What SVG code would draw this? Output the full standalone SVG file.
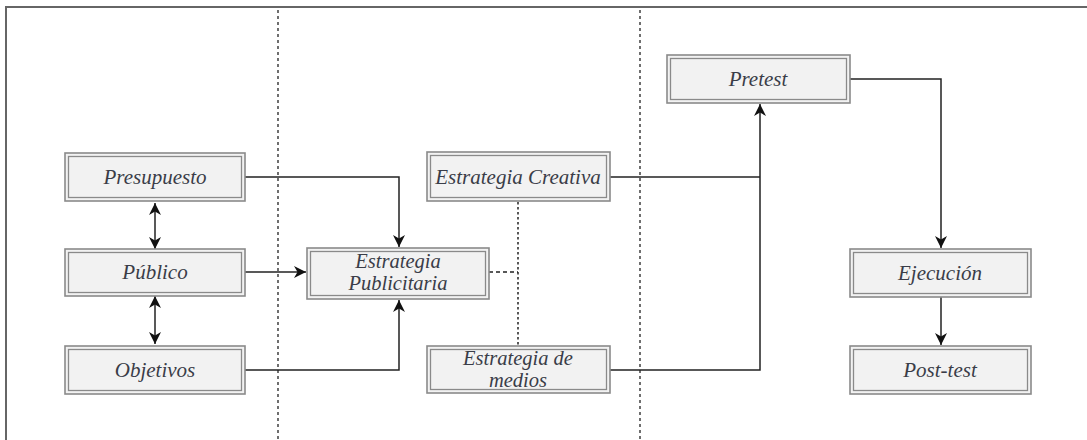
<svg xmlns="http://www.w3.org/2000/svg" width="1087" height="440" viewBox="0 0 1087 440">
  <defs>
    <marker id="arrow" viewBox="0 0 12 12" refX="12" refY="6" markerWidth="12" markerHeight="12" markerUnits="userSpaceOnUse" orient="auto-start-reverse">
      <path d="M0,0 L12,6 L0,12 L3.5,6 Z" fill="#111"/>
    </marker>
  </defs>
  <style>
    .frame { fill: none; stroke: #666; stroke-width: 2; }
    .divider { fill: none; stroke: #222; stroke-width: 1.3; stroke-dasharray: 3 3; }
    .outer { fill: #f2f2f2; stroke: #8a8a8a; stroke-width: 1.6; }
    .inner { fill: none; stroke: #8a8a8a; stroke-width: 1.3; }
    .label { font-family: "Liberation Serif", "Times New Roman", serif; font-style: italic; font-size: 21px; fill: #3a3d48; text-anchor: middle; }
    .label2 { font-size: 20.5px; }
    .conn { fill: none; stroke: #222; stroke-width: 1.5; }
    .dash { fill: none; stroke: #222; stroke-width: 1.5; stroke-dasharray: 4 3; }
    .dot { fill: none; stroke: #222; stroke-width: 1.5; stroke-dasharray: 2.5 2.5; }
  </style>

  <!-- page frame and column dividers -->
  <path class="frame" d="M6,440 L6,7 L1087,7"/>
  <line class="divider" x1="278" y1="10" x2="278" y2="440"/>
  <line class="divider" x1="640" y1="10" x2="640" y2="440"/>

  <!-- connectors -->
  <g id="connectors">
    <path class="conn" d="M245,177 H399 V247" marker-end="url(#arrow)"/>
    <path class="conn" d="M245,272 H306" marker-end="url(#arrow)"/>
    <path class="conn" d="M245,370 H399 V300" marker-end="url(#arrow)"/>
    <path class="conn" d="M155,203 V249" marker-start="url(#arrow)" marker-end="url(#arrow)"/>
    <path class="conn" d="M155,296 V344" marker-start="url(#arrow)" marker-end="url(#arrow)"/>
    <path class="dash" d="M489,272 H518"/>
    <path class="dot" d="M518,202 V346"/>
    <path class="conn" d="M610,177 H760"/>
    <path class="conn" d="M610,370 H760 V104" marker-end="url(#arrow)"/>
    <path class="conn" d="M850,79 H941 V248" marker-end="url(#arrow)"/>
    <path class="conn" d="M941,297 V345" marker-end="url(#arrow)"/>
  </g>

  <g id="presupuesto">
    <rect class="outer" x="65" y="153" width="180" height="48"/>
    <rect class="inner" x="68.5" y="156.5" width="173" height="41"/>
    <text class="label" x="155" y="184">Presupuesto</text>
  </g>
  <g id="publico">
    <rect class="outer" x="65" y="249" width="180" height="47"/>
    <rect class="inner" x="68.5" y="252.5" width="173" height="40"/>
    <text class="label" x="155" y="279">Público</text>
  </g>
  <g id="objetivos">
    <rect class="outer" x="65" y="346" width="180" height="48"/>
    <rect class="inner" x="68.5" y="349.5" width="173" height="41"/>
    <text class="label" x="155" y="377">Objetivos</text>
  </g>
  <g id="estrategia-publicitaria">
    <rect class="outer" x="307" y="248" width="182" height="51"/>
    <rect class="inner" x="310.5" y="251.5" width="175" height="44"/>
    <text class="label label2" x="398" y="268">Estrategia</text>
    <text class="label label2" x="398" y="290">Publicitaria</text>
  </g>
  <g id="estrategia-creativa">
    <rect class="outer" x="427" y="152" width="183" height="49"/>
    <rect class="inner" x="430.5" y="155.5" width="176" height="42"/>
    <text class="label" x="518" y="184">Estrategia Creativa</text>
  </g>
  <g id="estrategia-medios">
    <rect class="outer" x="427" y="346" width="183" height="47"/>
    <rect class="inner" x="430.5" y="349.5" width="176" height="40"/>
    <text class="label label2" x="518" y="365">Estrategia de</text>
    <text class="label label2" x="518" y="387">medios</text>
  </g>
  <g id="pretest">
    <rect class="outer" x="667" y="55" width="183" height="48"/>
    <rect class="inner" x="670.5" y="58.5" width="176" height="41"/>
    <text class="label" x="758" y="86">Pretest</text>
  </g>
  <g id="ejecucion">
    <rect class="outer" x="850" y="249" width="181" height="48"/>
    <rect class="inner" x="853.5" y="252.5" width="174" height="41"/>
    <text class="label" x="940" y="280">Ejecución</text>
  </g>
  <g id="post-test">
    <rect class="outer" x="850" y="346" width="181" height="48"/>
    <rect class="inner" x="853.5" y="349.5" width="174" height="41"/>
    <text class="label" x="940" y="377">Post-test</text>
  </g>
</svg>
